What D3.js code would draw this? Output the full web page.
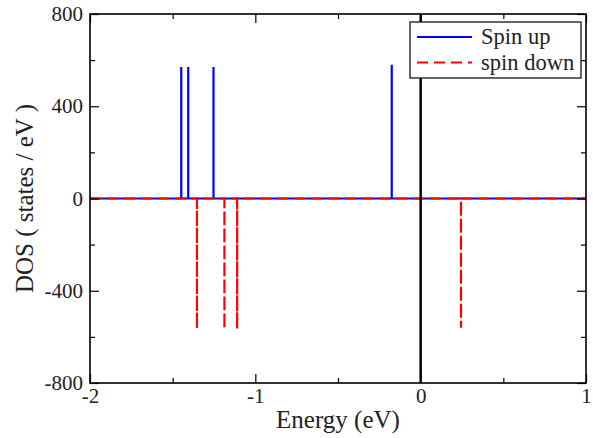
<!DOCTYPE html>
<html><head><meta charset="utf-8">
<script src="https://cdn.jsdelivr.net/npm/d3@7"></script>
<style>body{margin:0;background:#fff}svg{display:block}svg text{font-family:"Liberation Serif","Times New Roman",Times,"DejaVu Serif",serif;fill:#222}</style>
</head><body><svg id="c" width="593" height="438"></svg>
<script>
const xTicks = [-2, -1, 0, 1];
const xMinor = [-1.5, -0.5, 0.5];
const yTicks = [-800, -400, 0, 400, 800];
const yMinor = [-600, -200, 200, 600];
const upEnergies = [-1.448, -1.406, -1.253, -0.175];
const upValues = [570, 570, 570, 580];
const downEnergies = [-1.353, -1.187, -1.110, 0.244];
const downValues = [-565, -565, -565, -560];
const seriesNames = ["Spin up", "spin down"];
const fermiLevel = 0;

const FONT = '"Liberation Serif","Times New Roman",Times,"DejaVu Serif",serif';
const svg = d3.select("#c");
const L = 90, R = 586, T = 14, B = 383;
const x = d3.scaleLinear().domain([-2, 1]).range([L, R]);
const y = d3.scaleLinear().domain([-800, 800]).range([B, T]);

function spikes(es, vs) {
  const pts = [[-2, 0]];
  es.forEach((e, i) => { pts.push([e, 0], [e, vs[i]], [e, 0]); });
  pts.push([1, 0]);
  return pts;
}
const line = d3.line().x(d => x(d[0])).y(d => y(d[1]));

const g = svg.append("g");
g.append("path").datum(spikes(upEnergies, upValues)).attr("d", line)
  .attr("fill", "none").attr("stroke", "#0000ff").attr("stroke-width", 2.2);
g.append("path").datum(spikes(downEnergies, downValues)).attr("d", line)
  .attr("fill", "none").attr("stroke", "#ff0000").attr("stroke-width", 2.2)
  .attr("stroke-dasharray", "11,6");
g.append("line").attr("x1", x(fermiLevel)).attr("x2", x(fermiLevel))
  .attr("y1", y(800)).attr("y2", y(-800)).attr("stroke", "#000").attr("stroke-width", 2.5);

const fmt = d => String(d);
const ax = svg.append("g");
ax.append("g").attr("transform", `translate(0,${B})`)
  .call(d3.axisBottom(x).tickValues(xTicks).tickSize(-9).tickPadding(5).tickFormat(fmt));
ax.append("g").attr("transform", `translate(0,${B})`)
  .call(d3.axisBottom(x).tickValues(xMinor).tickSize(-5).tickFormat(""));
ax.append("g").attr("transform", `translate(0,${T})`)
  .call(d3.axisTop(x).tickValues(xTicks).tickSize(-9).tickFormat(""));
ax.append("g").attr("transform", `translate(0,${T})`)
  .call(d3.axisTop(x).tickValues(xMinor).tickSize(-5).tickFormat(""));
ax.append("g").attr("transform", `translate(${L},0)`)
  .call(d3.axisLeft(y).tickValues(yTicks).tickSize(-9).tickPadding(7).tickFormat(fmt));
ax.append("g").attr("transform", `translate(${L},0)`)
  .call(d3.axisLeft(y).tickValues(yMinor).tickSize(-5).tickFormat(""));
ax.append("g").attr("transform", `translate(${R},0)`)
  .call(d3.axisRight(y).tickValues(yTicks).tickSize(-9).tickFormat(""));
ax.append("g").attr("transform", `translate(${R},0)`)
  .call(d3.axisRight(y).tickValues(yMinor).tickSize(-5).tickFormat(""));
ax.selectAll("g").attr("font-family", FONT).attr("font-size", 21);
ax.selectAll(".domain").remove();
ax.selectAll(".tick line").attr("stroke", "#000").attr("stroke-width", 1.2);
ax.selectAll(".tick text").attr("font-family", FONT).attr("font-size", 21).attr("fill", "#222");
svg.append("rect").attr("x", L).attr("y", T).attr("width", R - L).attr("height", B - T)
  .attr("fill", "none").attr("stroke", "#000").attr("stroke-width", 1.6);

svg.append("text").attr("x", (L + R) / 2).attr("y", 428).attr("text-anchor", "middle")
  .attr("font-family", FONT).attr("font-size", 25).text("Energy (eV)");
svg.append("text").attr("transform", `translate(33,${(T + B) / 2}) rotate(-90)`)
  .attr("text-anchor", "middle").attr("font-family", FONT).attr("font-size", 25).text("DOS ( states / eV )");

const lg = svg.append("g");
lg.append("rect").attr("x", 410).attr("y", 22).attr("width", 171).attr("height", 56)
  .attr("fill", "#fff").attr("stroke", "#000").attr("stroke-width", 1.2);
const styles = [{c: "#0000ff", d: null}, {c: "#ff0000", d: "11,6"}];
seriesNames.forEach((n, i) => {
  const yy = 37 + i * 25.5;
  lg.append("line").attr("x1", 417).attr("x2", 472).attr("y1", yy).attr("y2", yy)
    .attr("stroke", styles[i].c).attr("stroke-width", 2.2).attr("stroke-dasharray", styles[i].d);
  lg.append("text").attr("x", 481).attr("y", yy + 7).attr("font-family", FONT).attr("font-size", 22.5).text(n);
});
</script></body></html>
